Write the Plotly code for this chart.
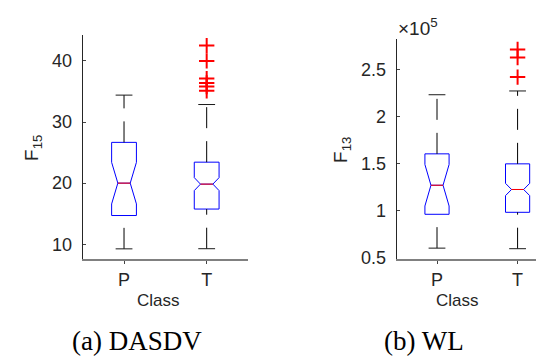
import plotly.graph_objects as go

classes = ["P", "T"]
positions = [1, 2]

# Panel (a) DASDV, F15
a_q1 = [14.7, 15.76]
a_med = [20.0, 19.84]
a_q3 = [26.67, 23.43]
a_lo = [9.25, 9.27]
a_hi = [34.4, 32.86]
a_notch = [3.4, 1.06]
a_out_T = [42.5, 40.0, 37.1, 36.4, 35.8, 35.1]
a_ticks = [10, 20, 30, 40]

# Panel (b) WL, F13
b_q1 = [0.962e5, 0.983e5]
b_med = [1.27e5, 1.225e5]
b_q3 = [1.603e5, 1.497e5]
b_lo = [0.603e5, 0.597e5]
b_hi = [2.23e5, 2.27e5]
b_notch = [0.22e5, 0.065e5]
b_out_T = [2.71e5, 2.624e5, 2.417e5]
b_ticks = [0.5e5, 1e5, 1.5e5, 2e5, 2.5e5]
b_ticktext = ["0.5", "1", "1.5", "2", "2.5"]

BOXW = 0.3
NOTCHW = 0.25
MEDHALF = BOXW / 2 * (1 - 2 * NOTCHW)
TXT = "#262626"
FONT = "Liberation Sans, Arial, sans-serif"
SERIF = "Liberation Serif, Times New Roman, serif"

fig = go.Figure()


def add_panel(xa, ya, q1, med, q3, lo, hi, notch, out_T):
    xref = "x" if xa == "" else "x" + xa
    yref = "y" if ya == "" else "y" + ya
    for i, p in enumerate(positions):
        fig.add_trace(go.Box(
            x=[p], q1=[q1[i]], median=[med[i]], q3=[q3[i]],
            lowerfence=[q1[i]], upperfence=[q3[i]],
            notched=True, notchspan=[notch[i]], notchwidth=NOTCHW,
            width=BOXW, whiskerwidth=0,
            line=dict(color="#0000ff", width=1),
            fillcolor="rgba(0,0,0,0)", boxpoints=False,
            xaxis=xref, yaxis=yref, showlegend=False, hoverinfo="skip"))
        # red median
        fig.add_trace(go.Scatter(
            x=[p - MEDHALF, p + MEDHALF], y=[med[i], med[i]], mode="lines",
            line=dict(color="#ff0000", width=1),
            xaxis=xref, yaxis=yref, showlegend=False, hoverinfo="skip"))
        # whiskers (dashed)
        fig.add_trace(go.Scatter(
            x=[p, p], y=[q3[i], hi[i]], mode="lines",
            line=dict(color="#000000", width=1, dash="21px,13px"),
            xaxis=xref, yaxis=yref, showlegend=False, hoverinfo="skip"))
        fig.add_trace(go.Scatter(
            x=[p, p], y=[lo[i], q1[i]], mode="lines",
            line=dict(color="#000000", width=1, dash="21px,13px"),
            xaxis=xref, yaxis=yref, showlegend=False, hoverinfo="skip"))
        # caps
        fig.add_trace(go.Scatter(
            x=[p, p], y=[lo[i], hi[i]], mode="markers",
            marker=dict(symbol="line-ew", size=12, color="#000000",
                        line=dict(color="#1a1a1a", width=1)),
            xaxis=xref, yaxis=yref, showlegend=False, hoverinfo="skip"))
    fig.add_trace(go.Scatter(
        x=[positions[1]] * len(out_T), y=out_T, mode="markers",
        marker=dict(symbol="cross-thin-open", size=11, color="#ff0000",
                    line=dict(color="#ff0000", width=2)),
        xaxis=xref, yaxis=yref, showlegend=False, hoverinfo="skip"))


add_panel("", "", a_q1, a_med, a_q3, a_lo, a_hi, a_notch, a_out_T)
add_panel("2", "2", b_q1, b_med, b_q3, b_lo, b_hi, b_notch, b_out_T)

W, H = 544, 358
xcommon = dict(tickvals=positions, ticktext=classes, ticks="outside", ticklen=3,
               tickcolor="#444", showline=True, linecolor="#808080", linewidth=2,
               showgrid=False, zeroline=False,
               tickfont=dict(family=FONT, size=18, color=TXT), ticklabelstandoff=1)
ycommon = dict(ticks="inside", ticklen=3, tickcolor="#444", showline=True,
               linecolor=TXT, linewidth=1, showgrid=False, zeroline=False,
               tickfont=dict(family=FONT, size=18, color=TXT), ticklabelstandoff=6)

fig.update_layout(
    width=W, height=H, margin=dict(l=0, r=0, t=0, b=0),
    paper_bgcolor="white", plot_bgcolor="white",
    xaxis=dict(domain=[74.7 / W, 240 / W], range=[0.5, 2.5], anchor="y", **xcommon),
    yaxis=dict(domain=[(H - 257.7) / H, (H - 28) / H], range=[7.67, 44.2],
               tickvals=a_ticks, anchor="x", **ycommon),
    xaxis2=dict(domain=[388.7 / W, 1.0], range=[0.5, 2.427], anchor="y2", **xcommon),
    yaxis2=dict(domain=[(H - 257.7) / H, (H - 32.3) / H], range=[0.493e5, 2.817e5],
                tickvals=b_ticks, ticktext=b_ticktext, anchor="x2", **ycommon),
)

ann = [
    dict(text="Class", x=150, y=301, size=17, family=FONT),
    dict(text="Class", x=449.7, y=301, size=17, family=FONT),
    dict(text="(a) DASDV", x=128.8, y=343, size=27, family=SERIF, color="#000"),
    dict(text="(b) WL", x=415.8, y=343, size=27, family=SERIF, color="#000"),
    dict(text="F<sub>15</sub>", x=25, y=144, size=19, family=FONT, angle=-90),
    dict(text="F<sub>13</sub>", x=334, y=146, size=19, family=FONT, angle=-90),
]
for a in ann:
    fig.add_annotation(
        text=a["text"], xref="paper", yref="paper",
        x=a["x"] / W, y=1 - a["y"] / H, xanchor="center", yanchor="middle",
        showarrow=False, textangle=a.get("angle", 0),
        font=dict(family=a["family"], size=a["size"], color=a.get("color", TXT)))

fig.add_annotation(
    text="×10<sup>5</sup>", xref="paper", yref="paper",
    x=388 / W, y=1 - 20 / H, xanchor="left", yanchor="middle",
    showarrow=False, font=dict(family=FONT, size=19, color=TXT))

fig.write_html("out.html")
